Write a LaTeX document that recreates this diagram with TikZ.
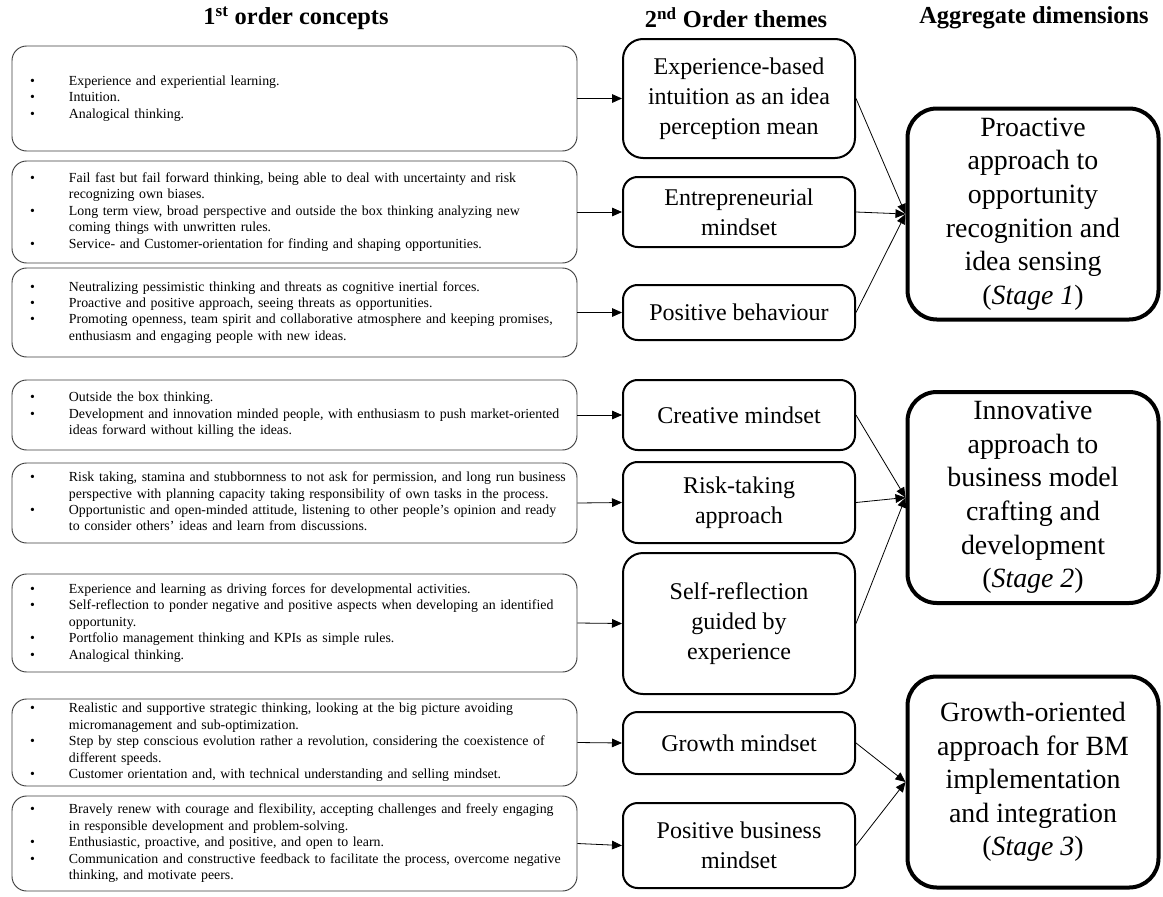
\documentclass[tikz,border=0pt]{standalone}
\usepackage{fontspec}
\setmainfont{Liberation Serif}
\usetikzlibrary{arrows.meta}

% bullet list laid out as a two-column table: bullet, then the text
\newenvironment{blist}{\begin{tabular}{@{\hspace{13.6pt}}p{29.15pt}@{}l@{}}}{\end{tabular}}

\begin{document}
\begin{tikzpicture}[x=0.75pt,y=-0.75pt,
  head/.style={font=\bfseries\fontsize{18.3}{21}\selectfont, inner sep=0pt},
  lbox/.style={draw=black!75, line width=0.7pt, rounded corners=11pt,
    text width=423.75pt, inner xsep=0pt, inner ysep=0pt, align=left,
    font=\fontsize{10.4}{12.3}\selectfont},
  mbox/.style={draw, line width=1.5pt, rounded corners=11pt, minimum width=174pt,
    inner sep=0pt, align=center, font=\fontsize{18}{22.5}\selectfont},
  sbox/.style={draw, line width=3pt, rounded corners=22pt, minimum width=188.25pt,
    minimum height=158.25pt, inner sep=0pt, align=center,
    font=\fontsize{20.9}{25.2}\selectfont},
  arr/.style={line width=0.6pt, -{Triangle[length=7.5pt,width=6.5pt]}}
]
\fill[white] (0,0) rectangle (1163,896);
\useasboundingbox (0,0) rectangle (1163,896);

% column headings
\node[head] (h1) at (296,18) {1\textsuperscript{st} order concepts};
\node[head] (h2) at (736,18) {2\textsuperscript{nd} Order themes};
\node[head] (h3) at (1034,18) {Aggregate dimensions};

% first-order concepts
\node[lbox, minimum height=78.75pt] (c1) at (294.5,98.5) {\begin{blist}
\textbullet & Experience and experiential learning.\\
\textbullet & Intuition.\\
\textbullet & Analogical thinking.
\end{blist}};

\node[lbox, minimum height=76.5pt] (c2) at (294.5,212) {\begin{blist}
\textbullet & Fail fast but fail forward thinking, being able to deal with uncertainty and risk\\
 & recognizing own biases.\\
\textbullet & Long term view, broad perspective and outside the box thinking analyzing new\\
 & coming things with unwritten rules.\\
\textbullet & Service- and Customer-orientation for finding and shaping opportunities.
\end{blist}};

\node[lbox, minimum height=66.75pt] (c3) at (294.5,312.5) {\begin{blist}
\textbullet & Neutralizing pessimistic thinking and threats as cognitive inertial forces.\\
\textbullet & Proactive and positive approach, seeing threats as opportunities.\\
\textbullet & Promoting openness, team spirit and collaborative atmosphere and keeping promises,\\
 & enthusiasm and engaging people with new ideas.
\end{blist}};

\node[lbox, minimum height=52.5pt] (c4) at (294.5,415) {\begin{blist}
\textbullet & Outside the box thinking.\\
\textbullet & Development and innovation minded people, with enthusiasm to push market-oriented\\
 & ideas forward without killing the ideas.
\end{blist}};

\node[lbox, minimum height=60pt] (c5) at (294.5,503) {\begin{blist}
\textbullet & Risk taking, stamina and stubbornness to not ask for permission, and long run business\\
 & perspective with planning capacity taking responsibility of own tasks in the process.\\
\textbullet & Opportunistic and open-minded attitude, listening to other people’s opinion and ready\\
 & to consider others' ideas and learn from discussions.
\end{blist}};

\node[lbox, minimum height=73.5pt] (c6) at (294.5,623) {\begin{blist}
\textbullet & Experience and learning as driving forces for developmental activities.\\
\textbullet & Self-reflection to ponder negative and positive aspects when developing an identified\\
 & opportunity.\\
\textbullet & Portfolio management thinking and KPIs as simple rules.\\
\textbullet & Analogical thinking.
\end{blist}};

\node[lbox, minimum height=65.25pt] (c7) at (294.5,742.5) {\begin{blist}
\textbullet & Realistic and supportive strategic thinking, looking at the big picture avoiding\\
 & micromanagement and sub-optimization.\\
\textbullet & Step by step conscious evolution rather a revolution, considering the coexistence of\\
 & different speeds.\\
\textbullet & Customer orientation and, with technical understanding and selling mindset.
\end{blist}};

\node[lbox, minimum height=71.25pt] (c8) at (294.5,843.5) {\begin{blist}
\textbullet & Bravely renew with courage and flexibility, accepting challenges and freely engaging\\
 & in responsible development and problem-solving.\\
\textbullet & Enthusiastic, proactive, and positive, and open to learn.\\
\textbullet & Communication and constructive feedback to facilitate the process, overcome negative\\
 & thinking, and motivate peers.
\end{blist}};

% second-order themes
\node[mbox, minimum height=89.25pt, rounded corners=15pt] (m1) at (739,98.5) {Experience-based\\intuition as an idea\\perception mean};
\node[mbox, minimum height=52.5pt] (m2) at (739,212) {Entrepreneurial\\mindset};
\node[mbox, minimum height=41.25pt] (m3) at (739,312.5) {Positive behaviour};
\node[mbox, minimum height=52.5pt] (m4) at (739,415) {Creative mindset};
\node[mbox, minimum height=60.75pt] (m5) at (739,502.5) {Risk-taking\\approach};
\node[mbox, minimum height=105.75pt, rounded corners=15pt] (m6) at (739,623.5) {Self-reflection\\guided by\\experience};
\node[mbox, minimum height=46.5pt] (m7) at (739,743) {Growth mindset};
\node[mbox, minimum height=63.75pt] (m8) at (739,845.5) {Positive business\\mindset};

% aggregate dimensions
\node[sbox] (s1) at (1033,214) {Proactive\\approach to\\opportunity\\recognition and\\idea sensing\\(\textit{Stage 1})};
\node[sbox] (s2) at (1033,497.5) {Innovative\\approach to\\business model\\crafting and\\development\\(\textit{Stage 2})};
\node[sbox] (s3) at (1033,782) {Growth-oriented\\approach for BM\\implementation\\and integration\\(\textit{Stage 3})};

% concepts to themes
\foreach \i in {1,...,8} {
  \draw[arr] (c\i.east) -- (m\i.west);
}

% themes to dimensions
\foreach \m in {m1,m2,m3} { \draw[arr] (\m.east) -- (s1.west); }
\foreach \m in {m4,m5,m6} { \draw[arr] (\m.east) -- (s2.west); }
\foreach \m in {m7,m8} { \draw[arr] (\m.east) -- (s3.west); }
\end{tikzpicture}
\end{document}
